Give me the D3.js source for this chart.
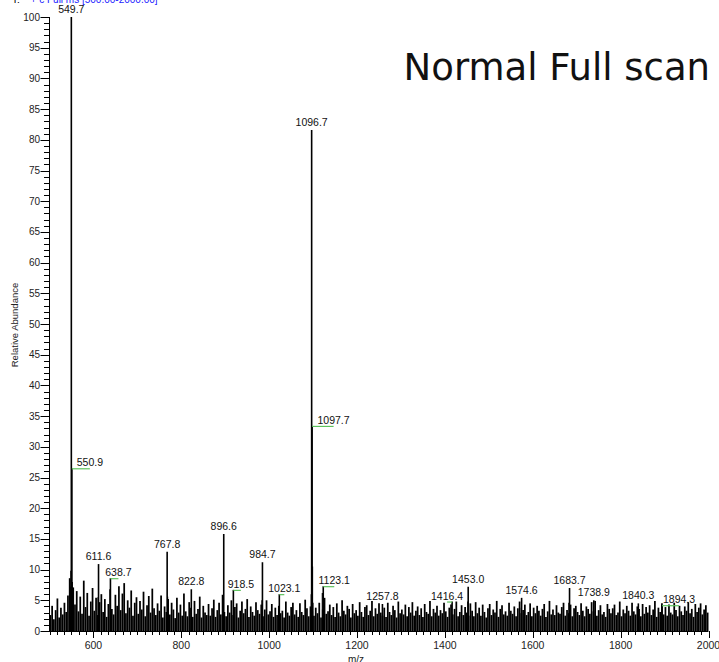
<!DOCTYPE html>
<html>
<head>
<meta charset="utf-8">
<script src="https://cdn.jsdelivr.net/npm/d3@7"></script>
<style>
  html, body { margin: 0; padding: 0; background: #fff; }
  svg { display: block; }
  text { font-family: "Liberation Sans", Arial, sans-serif; }
</style>
</head>
<body>
<svg id="chart"></svg>
<script>
// labelled peaks
var peakMz = [549.7, 550.9, 611.6, 638.7, 767.8, 822.8, 896.6, 918.5, 984.7, 1023.1,
    1096.7, 1097.7, 1123.1, 1257.8, 1416.4, 1453.0, 1574.6, 1683.7, 1738.9, 1840.3, 1894.3];
var peakAbund = [100, 26.5, 10.9, 8.6, 12.9, 6.8, 15.8, 6.7, 11.2, 6.0,
    81.6, 33.4, 7.3, 4.4, 4.8, 7.2, 5.4, 7.0, 5.0, 4.5, 4.2];

// small unlabelled peaks
var minorMz = [547.4, 548.6, 552.0, 553.1, 610.4, 768.8, 895.5, 983.6, 1095.7, 1098.7, 1099.7, 1121.0, 1452.1, 1574.0, 1682.1];
var minorAbund = [7.2, 9.8, 8.0, 6.1, 5.5, 5.6, 5.4, 5.0, 6.0, 10.5, 4.6, 6.2, 4.8, 3.8, 4.6];

// baseline noise, one stick every 4 m/z from 502
var noiseStart = 502, noiseStep = 4;
var noise = [
  2.6,4.1,1.9,3.4,5.3,2.2,3.8,2.7,4.6,3.1,
  5.8,8.6,2.4,7.1,4.3,6.5,3.2,5.6,2.8,8.2,
  3.9,6.2,2.5,4.8,7.0,3.3,5.4,2.6,4.7,6.0,
  3.1,5.2,2.3,4.4,6.8,3.6,2.7,5.9,4.1,7.3,
  3.4,6.1,7.8,2.9,5.0,3.8,6.6,2.5,4.6,5.5,
  2.8,4.9,3.5,6.4,2.4,4.2,5.7,3.0,6.9,3.7,
  2.6,4.5,3.3,5.8,2.2,4.0,3.1,5.2,2.7,4.6,
  3.5,2.1,5.4,3.0,4.3,2.5,6.1,3.2,2.4,4.7,
  3.8,2.3,4.9,2.8,3.6,5.6,2.2,4.1,3.0,2.6,
  4.4,2.5,3.7,5.1,2.3,3.4,4.6,2.7,5.9,3.1,
  2.4,4.2,3.0,5.0,2.6,3.9,4.5,2.2,3.3,4.8,
  2.9,3.6,5.2,2.3,4.0,3.1,2.5,4.7,3.4,2.8,
  4.3,2.4,3.5,5.0,2.7,3.2,4.4,2.3,3.8,2.6,
  4.1,2.9,3.3,2.2,4.8,3.0,2.5,3.9,4.6,2.7,
  3.4,2.3,4.5,3.1,2.6,5.1,3.7,2.4,4.0,3.2,
  2.5,3.8,2.9,4.6,2.2,3.5,5.4,2.8,3.2,4.3,
  2.6,3.9,2.3,4.5,3.0,2.4,5.0,3.3,2.7,4.1,
  3.6,2.2,4.4,2.9,3.4,2.5,4.7,3.1,2.3,3.9,
  4.2,2.6,3.3,4.9,2.4,3.7,2.8,4.5,3.0,2.5,
  3.8,2.3,4.6,3.1,2.6,4.1,3.4,2.2,4.8,2.9,
  3.5,2.7,4.3,2.4,3.9,3.0,4.7,2.5,3.3,4.0,
  2.6,3.7,2.3,4.4,3.1,2.8,4.9,2.4,3.6,3.0,
  4.1,2.5,3.4,2.9,4.6,3.2,2.3,3.8,4.3,2.7,
  3.6,4.8,2.4,3.1,4.2,2.6,3.9,3.0,2.5,4.5,
  3.3,2.4,4.7,2.9,3.8,2.5,4.3,3.1,2.2,3.7,
  4.4,2.6,3.5,3.0,4.9,2.3,3.6,4.2,2.7,3.2,
  2.5,4.6,3.3,2.8,4.0,2.4,3.7,4.8,2.9,3.4,
  4.3,2.6,3.1,4.5,2.4,3.8,2.9,4.1,3.3,2.5,
  3.6,4.4,2.3,3.2,4.9,2.7,3.5,2.6,4.2,3.0,
  2.8,3.9,4.6,2.5,3.4,2.9,4.3,2.4,3.7,4.1,
  3.1,2.6,4.5,3.3,2.4,4.0,3.6,2.8,4.7,3.2,
  4.9,2.5,3.4,4.2,2.7,3.1,2.3,4.4,3.6,2.9,
  3.7,4.3,2.6,3.0,4.8,2.4,3.5,2.9,4.1,3.3,
  2.5,4.6,3.2,2.7,4.0,3.6,2.4,4.4,2.8,3.9,
  3.0,4.2,2.6,3.5,4.9,2.3,3.8,3.1,4.5,2.7,
  3.9,2.5,4.3,3.0,2.7,4.6,3.4,2.4,4.1,3.2,
  2.6,4.0,3.3,4.7,2.9,3.6,2.3,4.4,3.1,3.8,
  4.5,2.7,3.5,4.2,3.0
];

var xTickLabels = [600, 800, 1000, 1200, 1400, 1600, 1800, 2000];
var yTickLabels = [0, 5, 10, 15, 20, 25, 30, 35, 40, 45, 50, 55, 60, 65, 70, 75, 80, 85, 90, 95, 100];

// label nudges in px (green leader drawn when non zero)
var labelShift = [0, 18, 0, 8, 0, 0, 0, 7.5, 0, 5, 0, 21.5, 11, 0, -5, 0, 0, 0, 0, 0, 17];

var width = 719, height = 662;
var svg = d3.select('#chart').attr('width', width).attr('height', height);

var x = d3.scaleLinear().domain([500, 2000]).range([49.5, 708.5]);
var y = d3.scaleLinear().domain([0, 100]).range([631, 17]);

// header (mostly cut off at the top)
var hdr = svg.append('text').attr('x', 12).attr('y', 3).attr('font-size', 10);
hdr.append('tspan').attr('fill', '#000').text('T: ');
hdr.append('tspan').attr('dx', 8).attr('fill', '#1a1aff').text('+ c Full ms [500.00-2000.00]');

// noise sticks
var g = svg.append('g');
g.selectAll('line.noise').data(noise)
    .enter().append('line')
    .attr('class', 'noise')
    .attr('x1', (d, i) => x(noiseStart + i * noiseStep))
    .attr('x2', (d, i) => x(noiseStart + i * noiseStep))
    .attr('y1', y(0))
    .attr('y2', d => y(d))
    .attr('stroke', '#000')
    .attr('stroke-width', 1.75);

g.selectAll('line.minor').data(minorMz)
    .enter().append('line')
    .attr('class', 'minor')
    .attr('x1', d => x(d)).attr('x2', d => x(d))
    .attr('y1', y(0))
    .attr('y2', (d, i) => y(minorAbund[i]))
    .attr('stroke', '#000')
    .attr('stroke-width', 1.2);

g.selectAll('line.peak').data(peakMz)
    .enter().append('line')
    .attr('class', 'peak')
    .attr('x1', d => x(d)).attr('x2', d => x(d))
    .attr('y1', y(0))
    .attr('y2', (d, i) => y(peakAbund[i]))
    .attr('stroke', '#000')
    .attr('stroke-width', 1.6);

// green leaders
g.selectAll('line.lead').data(peakMz.filter((d, i) => labelShift[i] != 0))
    .enter().append('line')
    .attr('class', 'lead')
    .attr('x1', d => x(d))
    .attr('x2', d => x(d) + labelShift[peakMz.indexOf(d)])
    .attr('y1', d => y(peakAbund[peakMz.indexOf(d)]) + 0.5)
    .attr('y2', d => y(peakAbund[peakMz.indexOf(d)]) + 0.5)
    .attr('stroke', '#5cc25c')
    .attr('stroke-width', 1.2);

g.selectAll('text.plab').data(peakMz)
    .enter().append('text')
    .attr('class', 'plab')
    .attr('x', (d, i) => x(d) + labelShift[i])
    .attr('y', (d, i) => y(peakAbund[i]) - (labelShift[i] != 0 ? 2 : 4))
    .attr('text-anchor', 'middle')
    .attr('font-size', 10.5)
    .attr('fill', '#111')
    .text(d => d.toFixed(1));

// x axis
var xa = svg.append('g');
xa.append('line').attr('x1', x(500)).attr('x2', x(2000))
    .attr('y1', y(0) + 0.5).attr('y2', y(0) + 0.5)
    .attr('stroke', '#000').attr('stroke-width', 1);
var minorX = d3.range(0, 91).map(k => 500 + k * 200 / 12);
xa.selectAll('line.mt').data(minorX)
    .enter().append('line')
    .attr('x1', d => Math.round(x(d)) + 0.5).attr('x2', d => Math.round(x(d)) + 0.5)
    .attr('y1', y(0)).attr('y2', y(0) + 4)
    .attr('stroke', '#000');
xa.selectAll('line.Mt').data(xTickLabels)
    .enter().append('line')
    .attr('x1', d => Math.round(x(d)) + 0.5).attr('x2', d => Math.round(x(d)) + 0.5)
    .attr('y1', y(0)).attr('y2', y(0) + 7)
    .attr('stroke', '#000');
xa.selectAll('text').data(xTickLabels)
    .enter().append('text')
    .attr('x', d => x(d)).attr('y', 649)
    .attr('text-anchor', 'middle')
    .attr('font-size', 10.5)
    .attr('fill', '#222')
    .text(d => d);
svg.append('text').attr('x', 356).attr('y', 663)
    .attr('text-anchor', 'middle').attr('font-size', 10).attr('fill', '#222')
    .text('m/z');

// y axis
var ya = svg.append('g');
ya.append('line').attr('x1', 49.5).attr('x2', 49.5)
    .attr('y1', y(100)).attr('y2', y(0) + 1)
    .attr('stroke', '#000');
ya.selectAll('line.mt').data(d3.range(0, 101))
    .enter().append('line')
    .attr('x1', 44).attr('x2', 49.5)
    .attr('y1', d => Math.round(y(d)) + 0.5).attr('y2', d => Math.round(y(d)) + 0.5)
    .attr('stroke', '#000');
ya.selectAll('line.Mt').data(yTickLabels)
    .enter().append('line')
    .attr('x1', 40.5).attr('x2', 49.5)
    .attr('y1', d => Math.round(y(d)) + 0.5).attr('y2', d => Math.round(y(d)) + 0.5)
    .attr('stroke', '#000');
ya.selectAll('text').data(yTickLabels)
    .enter().append('text')
    .attr('x', 40).attr('y', d => y(d))
    .attr('dy', '0.35em')
    .attr('text-anchor', 'end')
    .attr('font-size', 10)
    .attr('fill', '#222')
    .text(d => d);
svg.append('text')
    .attr('transform', 'translate(18,325) rotate(-90)')
    .attr('text-anchor', 'middle').attr('font-size', 9.5).attr('fill', '#222')
    .text('Relative Abundance');

// title
svg.append('text').attr('x', 710).attr('y', 80)
    .attr('text-anchor', 'end')
    .style('font-family', '"DejaVu Sans", Verdana, sans-serif')
    .attr('font-size', 37).attr('fill', '#111')
    .text('Normal Full scan');
</script>
</body>
</html>
